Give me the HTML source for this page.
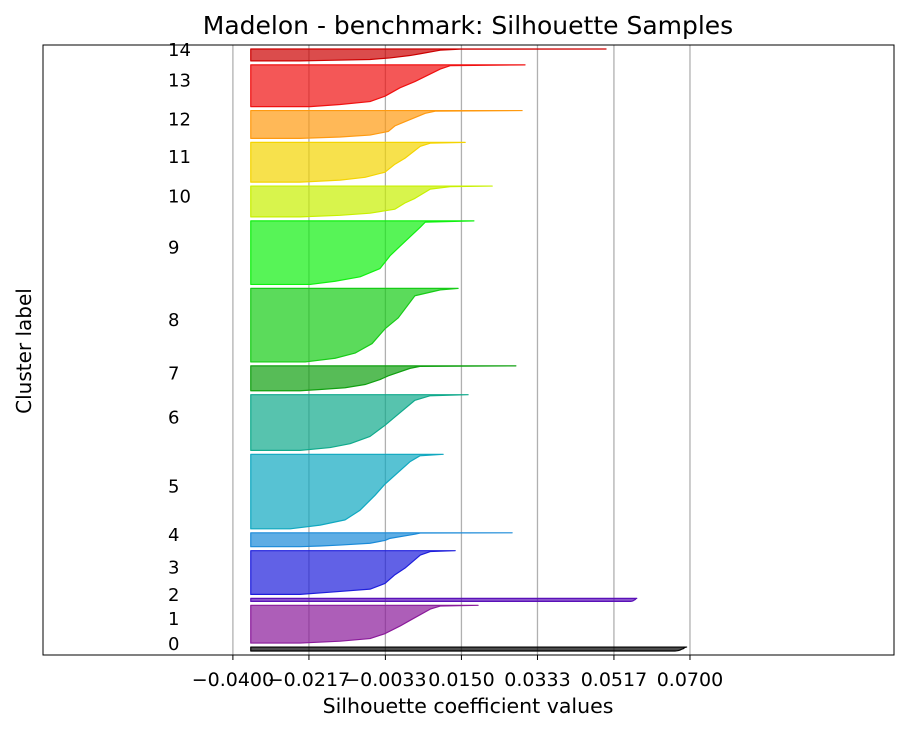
<!DOCTYPE html>
<html><head><meta charset="utf-8"><style>
body{margin:0;background:#fff}
svg text{font-family:"DejaVu Sans","Liberation Sans",sans-serif}
</style></head><body>
<svg id="chart" width="912" height="733" xmlns="http://www.w3.org/2000/svg">
<rect width="912" height="733" fill="#fff"/>
<text x="468" y="34" font-size="25" text-anchor="middle">Madelon - benchmark: Silhouette Samples</text>
<text x="468" y="713" font-size="20.5" text-anchor="middle">Silhouette coefficient values</text>
<text x="31" y="351" font-size="20" text-anchor="middle" transform="rotate(-90 31 351)">Cluster label</text>
<g id="grid"></g><g id="marks"></g><g id="labels"></g><g id="ticks"></g>
<rect x="43" y="45" width="851" height="610" fill="none" stroke="#000" stroke-width="1"/>
</svg>
<script>
const tickValues=[-0.04,-0.0217,-0.0033,0.015,0.0333,0.0517,0.07];
const tickLabels=["−0.0400","−0.0217","−0.0033","0.0150","0.0333","0.0517","0.0700"];
const clusterSizes=[4,38,3,44,14,75,56,25,74,64,31,40,28,42,12];
const baseValue=-0.0357;
const fracs=[0,0.02,0.1,0.4,0.55,0.75,0.88,0.95,1];
const p0=[0.0692,0.0690,0.0688,0.0684,0.0680,0.0676,0.0672,0.0668,0.0664];
const p1=[0.0190,0.0099,0.0075,0.0026,0.0002,-0.0034,-0.0070,-0.0142,-0.0238];
const p2=[0.0572,0.0571,0.0570,0.0568,0.0566,0.0564,0.0562,0.0560,0.0558];
const p3=[0.0135,0.0075,0.0051,0.0014,-0.0010,-0.0034,-0.0070,-0.0166,-0.0238];
const p4=[0.0272,0.0051,0.0038,-0.0022,-0.0034,-0.0070,-0.0142,-0.0190,-0.0238];
const p5=[0.0106,0.0050,0.0026,-0.0034,-0.0058,-0.0094,-0.0130,-0.0190,-0.0262];
const p6=[0.0166,0.0074,0.0038,-0.0010,-0.0034,-0.0070,-0.0118,-0.0166,-0.0238];
const p7=[0.0281,0.0050,0.0026,-0.0026,-0.0046,-0.0082,-0.0130,-0.0190,-0.0238];
const p8=[0.0142,0.0099,0.0038,-0.0002,-0.0034,-0.0065,-0.0106,-0.0154,-0.0226];
const p9=[0.0180,0.0063,0.0051,0.0002,-0.0022,-0.0046,-0.0094,-0.0154,-0.0214];
const p10=[0.0224,0.0123,0.0075,0.0038,0.0014,-0.0010,-0.0070,-0.0142,-0.0238];
const p11=[0.0159,0.0075,0.0051,0.0014,-0.0010,-0.0034,-0.0082,-0.0142,-0.0238];
const p12=[0.0296,0.0087,0.0063,0.0014,-0.0010,-0.0026,-0.0070,-0.0142,-0.0238];
const p13=[0.0303,0.0123,0.0099,0.0038,0.0002,-0.0034,-0.0070,-0.0142,-0.0214];
const p14=[0.0498,0.0147,0.0099,0.0051,0.0026,-0.0022,-0.0070,-0.0166,-0.0238];
const profiles=[p0,p1,p2,p3,p4,p5,p6,p7,p8,p9,p10,p11,p12,p13,p14];
const colors=["#000000","#8a1a9a","#5a10b8","#1e1edc","#1a8ad8","#10a8c0","#10aa8c","#10a010","#16cc16","#10f010","#c8f000","#f4d400","#ff9a10","#f01010","#cc0000"];
const gap=4;
const NS="http://www.w3.org/2000/svg";
const X0=43,X1=894,Y0=45,Y1=655;
const xmin=-0.0857,xmax=0.1191;
function sx(v){return X0+(v-xmin)/(xmax-xmin)*(X1-X0);}
let total=gap;clusterSizes.forEach(s=>total+=s+gap);
function sy(v){return Y1-(v/total)*(Y1-Y0);}
const grid=document.getElementById('grid'),ticks=document.getElementById('ticks'),marks=document.getElementById('marks'),labels=document.getElementById('labels');
tickValues.forEach((t,i)=>{
 const x=sx(t);
 const g=document.createElementNS(NS,'line');
 
 
 g.setAttribute('x1',x);g.setAttribute('x2',x);g.setAttribute('y1',Y0);g.setAttribute('y2',Y1);
 g.setAttribute('stroke','#b0b0b0');g.setAttribute('stroke-width','1.3');grid.appendChild(g);
 const tk=document.createElementNS(NS,'line');
 
 
 tk.setAttribute('x1',x);tk.setAttribute('x2',x);tk.setAttribute('y1',Y1);tk.setAttribute('y2',Y1+5);
 tk.setAttribute('stroke','#000');ticks.appendChild(tk);
 const tx=document.createElementNS(NS,'text');
 
 
 tx.setAttribute('x',x);tx.setAttribute('y',Y1+31);tx.setAttribute('font-size','19');tx.setAttribute('text-anchor','middle');
 tx.textContent=tickLabels[i];ticks.appendChild(tx);
});
let lower=gap;
clusterSizes.forEach((s,i)=>{
 const prof=profiles[i];const upper=lower+s;
 let d='M'+sx(baseValue)+','+sy(upper);
 prof.forEach((v,k)=>{d+=' L'+sx(v)+','+sy(upper-fracs[k]*s);});
 d+=' L'+sx(baseValue)+','+sy(lower)+' Z';
 const p=document.createElementNS(NS,'path');
 
 
 p.setAttribute('d',d);p.setAttribute('fill',colors[i]);p.setAttribute('fill-opacity','0.7');
 p.setAttribute('stroke',colors[i]);p.setAttribute('stroke-width','1.2');p.setAttribute('stroke-linejoin','round');
 marks.appendChild(p);
 const t=document.createElementNS(NS,'text');
 
 
 t.setAttribute('x',168);t.setAttribute('y',sy(lower+s/2)+1);t.setAttribute('font-size','18');
 t.textContent=String(i);labels.appendChild(t);
 lower=upper+gap;
});
</script>
</body></html>
